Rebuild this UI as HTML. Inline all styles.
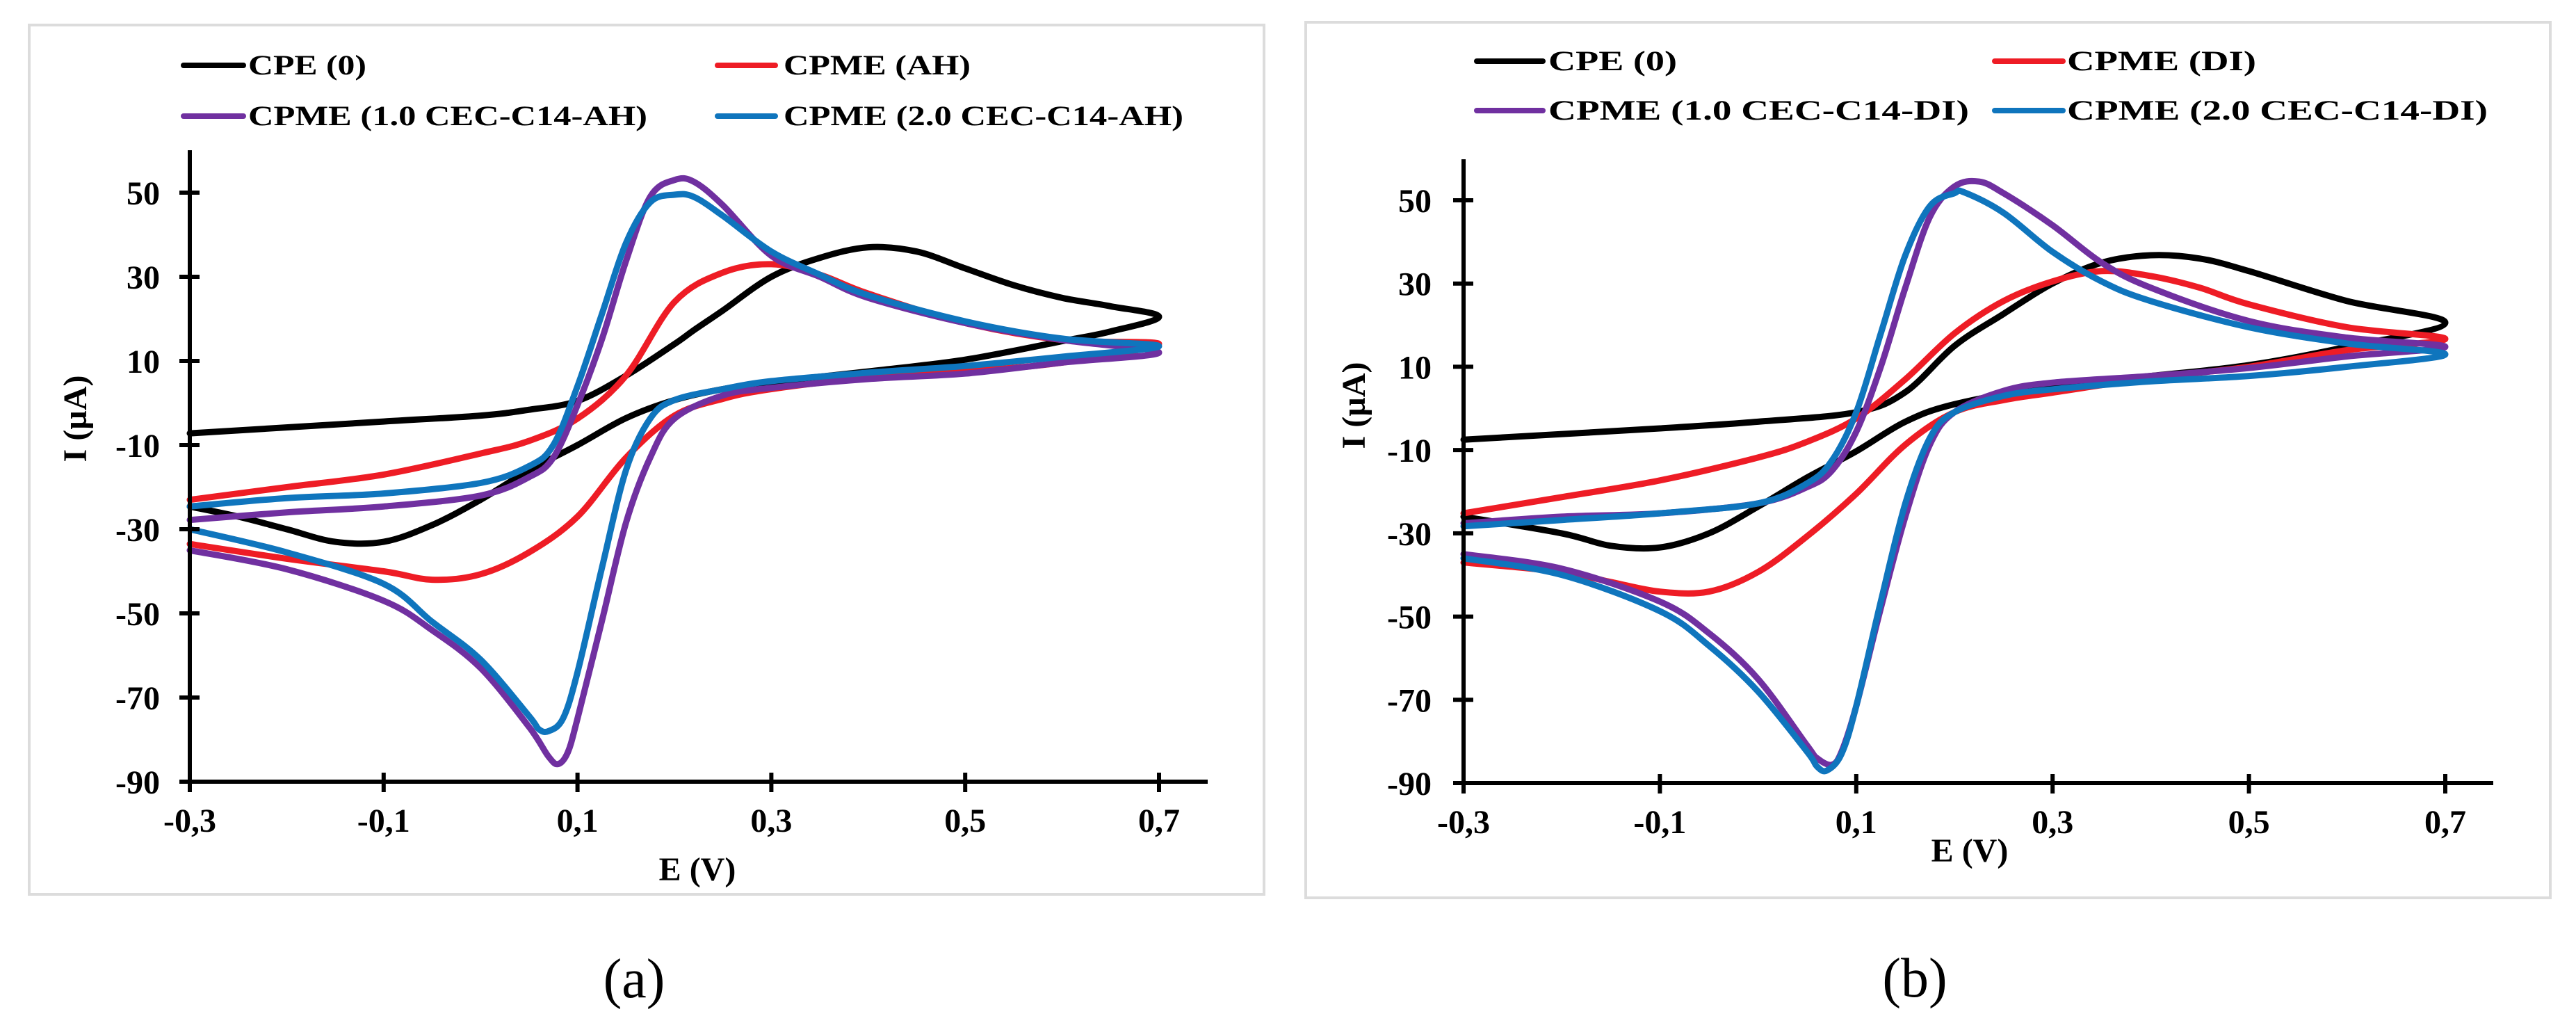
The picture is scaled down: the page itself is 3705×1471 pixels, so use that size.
<!DOCTYPE html>
<html><head><meta charset="utf-8"><style>
html,body{margin:0;padding:0;background:#fff;}
svg{display:block;}
</style></head><body>
<svg id="fig" width="3705" height="1471" viewBox="0 0 3705 1471" xmlns="http://www.w3.org/2000/svg"></svg>
<script>
// ---- data: x tick labels and y tick values ----
const xTicks = [-0.3, -0.1, 0.1, 0.3, 0.5, 0.7];
const yTicks = [50, 30, 10, -10, -30, -50, -70, -90];
const xTickLabels = ["-0,3", "-0,1", "0,1", "0,3", "0,5", "0,7"];

// Panel (a) series: potential (V) and current (µA), forward then reverse scan
const aCpeE = [-0.3,-0.1,0,0.05,0.1,0.15,0.2,0.22,0.25,0.3,0.35,0.4,0.45,0.5,0.55,0.6,0.65,0.7,0.65,0.6,0.5,0.4,0.3,0.25,0.2,0.15,0.1,0.05,0,-0.05,-0.1,-0.15,-0.2,-0.25,-0.3];
const aCpeI = [-7.2,-4.4,-3,-1.6,0.5,6.5,14,17.3,22,30,34.5,37,36,32,28,25,23,20.5,17,14.7,10.3,7.5,5,3.3,0.7,-3.6,-10,-16,-23,-29,-33,-33,-30,-27,-24.6];
const aRedE = [-0.3,-0.2,-0.1,0,0.05,0.1,0.15,0.2,0.25,0.3,0.35,0.4,0.5,0.6,0.7,0.6,0.5,0.4,0.3,0.25,0.2,0.15,0.1,0.05,0,-0.05,-0.1,-0.2,-0.3];
const aRedI = [-23,-20,-17,-12,-9,-3.7,6.5,24,31,33,30.5,26,19,15,14,9.6,7.5,6,3.3,1,-3,-13,-27,-35.5,-40.7,-42,-40,-37,-33.5];
const aPurE = [-0.3,-0.2,-0.1,0,0.05,0.075,0.1,0.125,0.15,0.175,0.2,0.22,0.25,0.3,0.35,0.4,0.5,0.6,0.7,0.6,0.5,0.4,0.3,0.25,0.2,0.175,0.15,0.125,0.1,0.09,0.08,0.07,0.05,0,-0.05,-0.1,-0.2,-0.3];
const aPurI = [-27.8,-26,-24.6,-22,-17.6,-13,-0.5,15,33.7,49,53,52.6,47,35,30,25,19,15,12,9.6,7,5.7,3.6,1.8,-3.7,-13,-28.5,-52,-75,-83,-85.8,-84,-77,-63,-54,-47,-39.5,-35];
const aBluE = [-0.3,-0.2,-0.1,0,0.05,0.075,0.1,0.125,0.15,0.175,0.2,0.22,0.25,0.3,0.35,0.4,0.5,0.6,0.7,0.6,0.5,0.4,0.3,0.25,0.2,0.175,0.15,0.125,0.1,0.085,0.07,0.06,0.05,0,-0.05,-0.1,-0.2,-0.3];
const aBluI = [-24.6,-22.6,-21.5,-19,-15,-10,4,21,38,47.7,49.5,49,44.5,36,30.5,25.6,19.4,15.3,13.5,11,8.8,7.2,5.2,3.3,0.7,-3.7,-16,-39.4,-64,-75,-78,-77.5,-74.4,-61,-52,-43,-35.5,-30];

// Panel (b) series
const bCpeE = [-0.3,-0.1,0,0.1,0.15,0.2,0.25,0.3,0.35,0.4,0.45,0.5,0.6,0.7,0.6,0.5,0.4,0.3,0.2,0.15,0.1,0.05,0,-0.05,-0.1,-0.15,-0.2,-0.3];
const bCpeI = [-7.5,-4.8,-3.2,-0.9,3.9,15,22.7,30,35,36.8,36,33,25.8,20.6,14.8,10.4,7.8,5.4,1,-3.2,-10.3,-16.6,-23.6,-30,-33.4,-33,-30,-26];
const bRedE = [-0.3,-0.2,-0.1,0,0.05,0.1,0.15,0.2,0.25,0.3,0.35,0.4,0.45,0.5,0.6,0.7,0.6,0.5,0.4,0.3,0.25,0.2,0.15,0.1,0.05,0,-0.05,-0.1,-0.15,-0.2,-0.3];
const bRedI = [-25.2,-21.3,-17.3,-11.8,-8,-2.4,7,18,25.8,30.5,33,31.8,29,25,19.5,16.7,14,10,7.3,3.8,2,-0.9,-8.7,-20.5,-30.7,-39.3,-44,-44,-41.7,-39.3,-37];
const bPurE = [-0.3,-0.2,-0.1,0,0.05,0.075,0.1,0.125,0.15,0.175,0.2,0.225,0.25,0.3,0.35,0.4,0.5,0.6,0.7,0.6,0.5,0.4,0.3,0.25,0.2,0.175,0.15,0.125,0.1,0.085,0.075,0.06,0.05,0,-0.05,-0.1,-0.2,-0.3];
const bPurI = [-27.6,-26,-25.2,-22.8,-18.9,-15,-5.6,10,29,46,53.3,54.5,51.7,44,35,29,21,17,14.8,12.5,9.7,7.8,6.2,4.2,-0.9,-8.7,-26,-48,-71.5,-82.5,-85.6,-84,-81,-65,-54,-46.4,-38.5,-35];
const bBluE = [-0.3,-0.2,-0.1,0,0.05,0.075,0.1,0.125,0.15,0.175,0.2,0.21,0.25,0.3,0.35,0.4,0.5,0.6,0.7,0.6,0.5,0.4,0.3,0.25,0.2,0.175,0.15,0.125,0.1,0.085,0.07,0.06,0.05,0,-0.05,-0.1,-0.2,-0.3];
const bBluI = [-28.3,-26.8,-25.2,-22.8,-18,-12.6,-0.9,18,36.8,48.6,51.7,51.9,47,37.6,30.5,25.8,19.5,15.6,13,10,7.8,6.5,4.6,3,-0.9,-7.1,-22.8,-46.4,-71.5,-83,-87,-86,-82.5,-68,-57,-48.7,-40,-36];

const NS = "http://www.w3.org/2000/svg";
const svg = document.getElementById("fig");
const FONT = '"Liberation Serif", serif';

function el(tag, attrs, parent) {
  const e = document.createElementNS(NS, tag);
  for (const k in attrs) e.setAttribute(k, attrs[k]);
  (parent || svg).appendChild(e);
  return e;
}
function smoothPath(pts) {
  let d = "M" + pts[0][0].toFixed(1) + "," + pts[0][1].toFixed(1);
  for (let i = 0; i < pts.length - 1; i++) {
    const p0 = pts[i - 1] || pts[i], p1 = pts[i], p2 = pts[i + 1], p3 = pts[i + 2] || p2;
    const c1x = p1[0] + (p2[0] - p0[0]) / 6, c1y = p1[1] + (p2[1] - p0[1]) / 6;
    const c2x = p2[0] - (p3[0] - p1[0]) / 6, c2y = p2[1] - (p3[1] - p1[1]) / 6;
    d += " C" + c1x.toFixed(1) + "," + c1y.toFixed(1) + " " + c2x.toFixed(1) + "," + c2y.toFixed(1) + " " + p2[0].toFixed(1) + "," + p2[1].toFixed(1);
  }
  return d;
}

function panel(cfg) {
  const g = el("g", {});
  
  
  const xs = v => cfg.x0 + (v - (-0.3)) / 1.0 * (cfg.x1 - cfg.x0);
  const ys = v => cfg.y50 + (50 - v) / 140 * (cfg.y90 - cfg.y50);

  const fr = el("rect", {x: cfg.fx, y: cfg.fy, width: cfg.fw, height: cfg.fh, fill: "none", stroke: "#dcdcdc", "stroke-width": 4}, g);
  
  

  const sg = el("g", {fill: "none", "stroke-width": 9, "stroke-linejoin": "round", "stroke-linecap": "round"}, g);
  cfg.series.forEach(s => {
    const pts = s.E.map((e, i) => [xs(e), ys(s.I[i])]);
    const p = el("path", {d: smoothPath(pts), stroke: s.color}, sg);
    
    
  });

  const ya = el("line", {x1: cfg.x0, y1: cfg.ytop, x2: cfg.x0, y2: cfg.y90 + 3, stroke: "#000", "stroke-width": 6}, g);
  
  
  const xa = el("line", {x1: cfg.x0 - 3, y1: cfg.y90, x2: cfg.xend, y2: cfg.y90, stroke: "#000", "stroke-width": 6}, g);
  
  

  yTicks.forEach(v => {
    const y = ys(v);
    el("line", {x1: cfg.x0 - 15, y1: y, x2: cfg.x0 + 14, y2: y, stroke: "#000", "stroke-width": 6}, g);
    const t = el("text", {x: cfg.ylabR, y: y + 17, "text-anchor": "end", "font-family": FONT, "font-weight": "bold", "font-size": 48, fill: "#000"}, g);
    
    
    t.textContent = String(v);
  });
  xTicks.forEach((v, i) => {
    const x = xs(v);
    el("line", {x1: x, y1: cfg.y90 - 13, x2: x, y2: cfg.y90 + 15, stroke: "#000", "stroke-width": 6}, g);
    const t = el("text", {x: x, y: cfg.y90 + 72, "text-anchor": "middle", "font-family": FONT, "font-weight": "bold", "font-size": 48, fill: "#000"}, g);
    
    
    t.textContent = xTickLabels[i];
  });

  const xt = el("text", {x: cfg.xtx, y: cfg.xty + 17, "text-anchor": "middle", "font-family": FONT, "font-weight": "bold", "font-size": 48, fill: "#000"}, g);
  
  
  xt.textContent = "E (V)";
  const yt = el("text", {x: 0, y: 0, transform: "translate(" + (cfg.ytx + 17) + "," + cfg.yty + ") rotate(-90)", "text-anchor": "middle", "font-family": FONT, "font-weight": "bold", "font-size": 48, fill: "#000"}, g);
  
  
  yt.textContent = "I (µA)";

  cfg.legend.forEach(L => {
    const lg = el("g", {}, g);
    
    
    el("line", {x1: L.lx1, y1: L.y, x2: L.lx2, y2: L.y, stroke: L.color, "stroke-width": 8, "stroke-linecap": "round"}, lg);
    const t = el("text", {x: L.tx, y: L.y + 13, "font-family": FONT, "font-weight": "bold", "font-size": 40, fill: "#000", textLength: L.w, lengthAdjust: "spacingAndGlyphs"}, lg);
    t.textContent = L.text;
  });

  const cap = el("text", {x: cfg.capx, y: cfg.capy + 26, "text-anchor": "middle", "font-family": FONT, "font-size": 80, fill: "#000"}, g);
  
  
  cap.textContent = cfg.caption;
}

panel({
  id: "panel-a", x0: 273, x1: 1667, xend: 1737, y50: 277, y90: 1124, ytop: 216,
  fx: 42, fy: 36, fw: 1776, fh: 1250, ylabR: 230,
  xtx: 1003, xty: 1249, ytx: 107, yty: 602, capx: 912, capy: 1408, caption: "(a)",
  series: [
    {name: "cpe-0-curve", color: "#000000", E: aCpeE, I: aCpeI},
    {name: "cpme-ah-curve", color: "#ee1c25", E: aRedE, I: aRedI},
    {name: "cpme-1-0-cec-c14-ah-curve", color: "#7030a0", E: aPurE, I: aPurI},
    {name: "cpme-2-0-cec-c14-ah-curve", color: "#0f75bd", E: aBluE, I: aBluI}
  ],
  legend: [
    {color: "#000", lx1: 264, lx2: 350, tx: 357, y: 94, w: 170, text: "CPE (0)"},
    {color: "#ee1c25", lx1: 1032, lx2: 1115, tx: 1127, y: 94, w: 269, text: "CPME (AH)"},
    {color: "#7030a0", lx1: 264, lx2: 350, tx: 357, y: 167, w: 574, text: "CPME (1.0 CEC-C14-AH)"},
    {color: "#0f75bd", lx1: 1032, lx2: 1115, tx: 1127, y: 167, w: 575, text: "CPME (2.0 CEC-C14-AH)"}
  ]
});

panel({
  id: "panel-b", x0: 2105, x1: 3517, xend: 3586, y50: 288, y90: 1126, ytop: 229,
  fx: 1878, fy: 32, fw: 1790, fh: 1259, ylabR: 2059,
  xtx: 2833, xty: 1222, ytx: 1946, yty: 583, capx: 2754, capy: 1407, caption: "(b)",
  series: [
    {name: "cpe-0-curve", color: "#000000", E: bCpeE, I: bCpeI},
    {name: "cpme-di-curve", color: "#ee1c25", E: bRedE, I: bRedI},
    {name: "cpme-1-0-cec-c14-di-curve", color: "#7030a0", E: bPurE, I: bPurI},
    {name: "cpme-2-0-cec-c14-di-curve", color: "#0f75bd", E: bBluE, I: bBluI}
  ],
  legend: [
    {color: "#000", lx1: 2124, lx2: 2219, tx: 2227, y: 88, w: 185, text: "CPE (0)"},
    {color: "#ee1c25", lx1: 2869, lx2: 2967, tx: 2973, y: 88, w: 272, text: "CPME (DI)"},
    {color: "#7030a0", lx1: 2124, lx2: 2219, tx: 2227, y: 159, w: 605, text: "CPME (1.0 CEC-C14-DI)"},
    {color: "#0f75bd", lx1: 2869, lx2: 2967, tx: 2973, y: 159, w: 605, text: "CPME (2.0 CEC-C14-DI)"}
  ]
});
</script>
</body></html>
